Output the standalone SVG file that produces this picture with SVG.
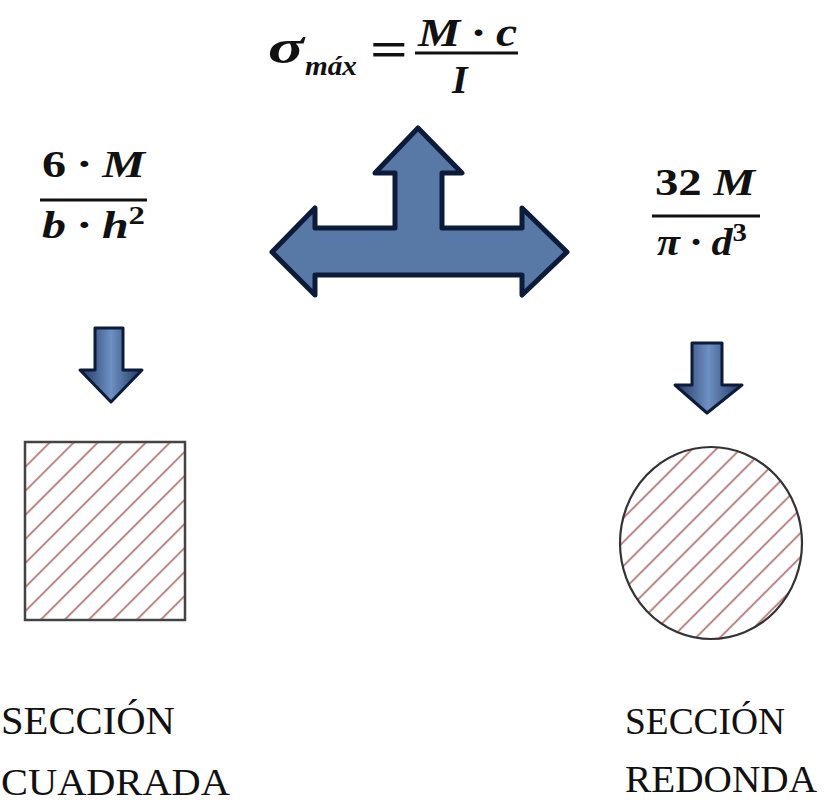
<svg xmlns="http://www.w3.org/2000/svg" width="824" height="806" viewBox="0 0 824 806">
<style>
text{font-family:'Liberation Serif','Tinos','Times New Roman','DejaVu Serif','Noto Serif',serif;fill:#111}
.m{font-weight:bold;font-style:italic}
.n{font-weight:bold;font-style:normal}
.lbl{font-weight:normal}
.bar{stroke:#111;stroke-width:3}
.arrow{fill:#5878a6;stroke:#0d1b3a;stroke-width:5;stroke-linejoin:round}
.darrow{fill:url(#dg);stroke:#0d1b3a;stroke-width:3;stroke-linejoin:round}
</style>
<defs>
<pattern id="hatch" patternUnits="userSpaceOnUse" width="17" height="17" patternTransform="rotate(45)">
<line x1="8" y1="0" x2="8" y2="17" stroke="#b06a6a" stroke-width="1.6"/>
</pattern>
<linearGradient id="dg" x1="0" y1="0" x2="1" y2="0">
<stop offset="0" stop-color="#1e3662"/>
<stop offset="0.5" stop-color="#6e90c2"/>
<stop offset="1" stop-color="#1e3662"/>
</linearGradient>
</defs>
<rect width="824" height="806" fill="#fff"/>

<g id="formula-top">
<text class="m" font-family="Liberation Serif, serif" x="268" y="63" font-size="48" textLength="36" lengthAdjust="spacingAndGlyphs">σ</text>
<text class="m" font-family="Liberation Serif, serif" x="305" y="75" font-size="27" textLength="52" lengthAdjust="spacingAndGlyphs">máx</text>
<text class="n" font-family="Liberation Serif, serif" x="370" y="66" font-size="50" font-weight="normal" textLength="38" lengthAdjust="spacingAndGlyphs">=</text>
<text class="m" font-family="Liberation Serif, serif" x="418" y="46" font-size="40" textLength="99" lengthAdjust="spacingAndGlyphs">M  · c</text>
<line class="bar" x1="415" y1="53" x2="518" y2="53"/>
<text class="m" font-family="Liberation Serif, serif" x="452" y="93" font-size="40">I</text>
</g>

<g id="formula-left">
<text class="m" font-family="Liberation Serif, serif" x="42" y="177" font-size="38" textLength="103" lengthAdjust="spacingAndGlyphs"><tspan class="n">6</tspan>  · M</text>
<line class="bar" x1="40" y1="200" x2="147" y2="200"/>
<text class="m" font-family="Liberation Serif, serif" x="42" y="238" font-size="38" textLength="103" lengthAdjust="spacingAndGlyphs">b · h<tspan class="n" font-size="26" dy="-14">2</tspan></text>
</g>

<g id="formula-right">
<text class="m" font-family="Liberation Serif, serif" x="655" y="195" font-size="38" textLength="100" lengthAdjust="spacingAndGlyphs"><tspan class="n">32</tspan> M</text>
<line class="bar" x1="652" y1="216" x2="760" y2="216"/>
<text class="m" font-family="Liberation Serif, serif" x="657" y="255" font-size="38" textLength="90" lengthAdjust="spacingAndGlyphs">π · d<tspan class="n" font-size="26" dy="-14">3</tspan></text>
</g>

<g id="t-arrow">
<path class="arrow" d="M418,128 L462,173 L442,173 L442,228 L522,228 L522,208 L567,252 L522,295 L522,275 L315,275 L315,295 L272,252 L315,208 L315,228 L395,228 L395,173 L375,173 Z"/>
</g>

<g id="arrow-left">
<path class="darrow" d="M95,328 L123,328 L123,370 L142,370 L111,402 L80,370 L95,370 Z"/>
</g>
<g id="arrow-right">
<path class="darrow" d="M692,343 L722,343 L722,385 L742,385 L707,413 L675,385 L692,385 Z"/>
</g>

<g id="square-section">
<rect x="25" y="442" width="160" height="178" fill="url(#hatch)" stroke="#444" stroke-width="2.5"/>
</g>
<g id="round-section">
<ellipse cx="711" cy="543" rx="91" ry="96" fill="url(#hatch)" stroke="#333" stroke-width="2.2"/>
</g>

<g id="label-left">
<text class="lbl" font-family="Liberation Serif, serif" x="1" y="734" font-size="40" textLength="174" lengthAdjust="spacingAndGlyphs">SECCIÓN</text>
<text class="lbl" font-family="Liberation Serif, serif" x="1" y="795" font-size="38" textLength="229" lengthAdjust="spacingAndGlyphs">CUADRADA</text>
</g>
<g id="label-right">
<text class="lbl" font-family="Liberation Serif, serif" x="625" y="734" font-size="38" textLength="160" lengthAdjust="spacingAndGlyphs">SECCIÓN</text>
<text class="lbl" font-family="Liberation Serif, serif" x="625" y="792" font-size="38" textLength="192" lengthAdjust="spacingAndGlyphs">REDONDA</text>
</g>
</svg>
